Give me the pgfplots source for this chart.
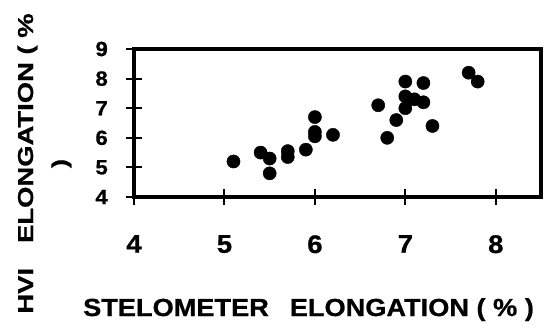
\documentclass[border=0pt]{standalone}
\usepackage{pgfplots}
\pgfplotsset{compat=1.18}
\usepackage{fontspec}
\setmainfont{Liberation Sans}
\newfontfamily\xlabfont{Liberation Sans}[FakeStretch=1.10, FakeBold=0.8]
\newfontfamily\ylabfont{Liberation Sans}[FakeStretch=1.27, FakeBold=0.8]
\newfontfamily\xtickfont{Liberation Sans}[FakeStretch=1.08, FakeBold=0.8]
\begin{document}
\begin{tikzpicture}[x=1pt,y=1pt]
\path[use as bounding box] (0,0) rectangle (556,333);
\begin{axis}[
  at={(134pt,136pt)}, anchor=south west,
  width=407pt, height=148pt, scale only axis,
  xmin=4, xmax=8.5, ymin=4, ymax=9,
  xtick={4,5,6,7,8}, ytick={4,5,6,7,8,9},
  xticklabels={4,5,6,7,8}, yticklabels={4,5,6,7,8,9},
  axis line style={line width=3.2pt},
  tick style={line width=2pt, black},
  major tick length=16pt,
  tick align=center,
  tick pos=left,
  /pgf/number format/assume math mode=true,
  xticklabel style={font=\xtickfont\bfseries\fontsize{25.5}{26}\selectfont, inner sep=0pt, anchor=north, yshift=-30pt},
  yticklabel style={font=\xtickfont\bfseries\fontsize{20.5}{22}\selectfont, inner sep=0pt, anchor=east, xshift=-18pt},
  clip=false,
]
\addplot[only marks, mark=*, mark size=6.6pt, black] coordinates {
(5.1,5.2) (5.4,5.5) (5.5,5.3) (5.5,4.8) (5.7,5.55) (5.7,5.35) (5.9,5.6)
(6.0,6.7) (6.0,6.2) (6.0,6.05) (6.2,6.1) (6.7,7.1) (6.8,6.0) (6.9,6.6)
(7.0,7.9) (7.0,7.4) (7.0,7.0) (7.1,7.3) (7.2,7.85) (7.2,7.2) (7.3,6.4)
(7.7,8.2) (7.8,7.9)
};
\end{axis}
\node[anchor=base, inner sep=0pt, font=\xlabfont\bfseries\fontsize{24.7}{28}\selectfont] at (308.5,17) {STELOMETER\hspace{21pt}ELONGATION ( \% )};
\node[anchor=base, rotate=90, inner sep=0pt, font=\ylabfont\bfseries\fontsize{21.6}{26}\selectfont] at (33,169.5) {HVI\hspace{25pt}ELONGATION ( \%};
\node[anchor=base, rotate=90, inner sep=0pt, font=\ylabfont\bfseries\fontsize{21.6}{26}\selectfont] at (67,169.5) {)};
\end{tikzpicture}
\end{document}
